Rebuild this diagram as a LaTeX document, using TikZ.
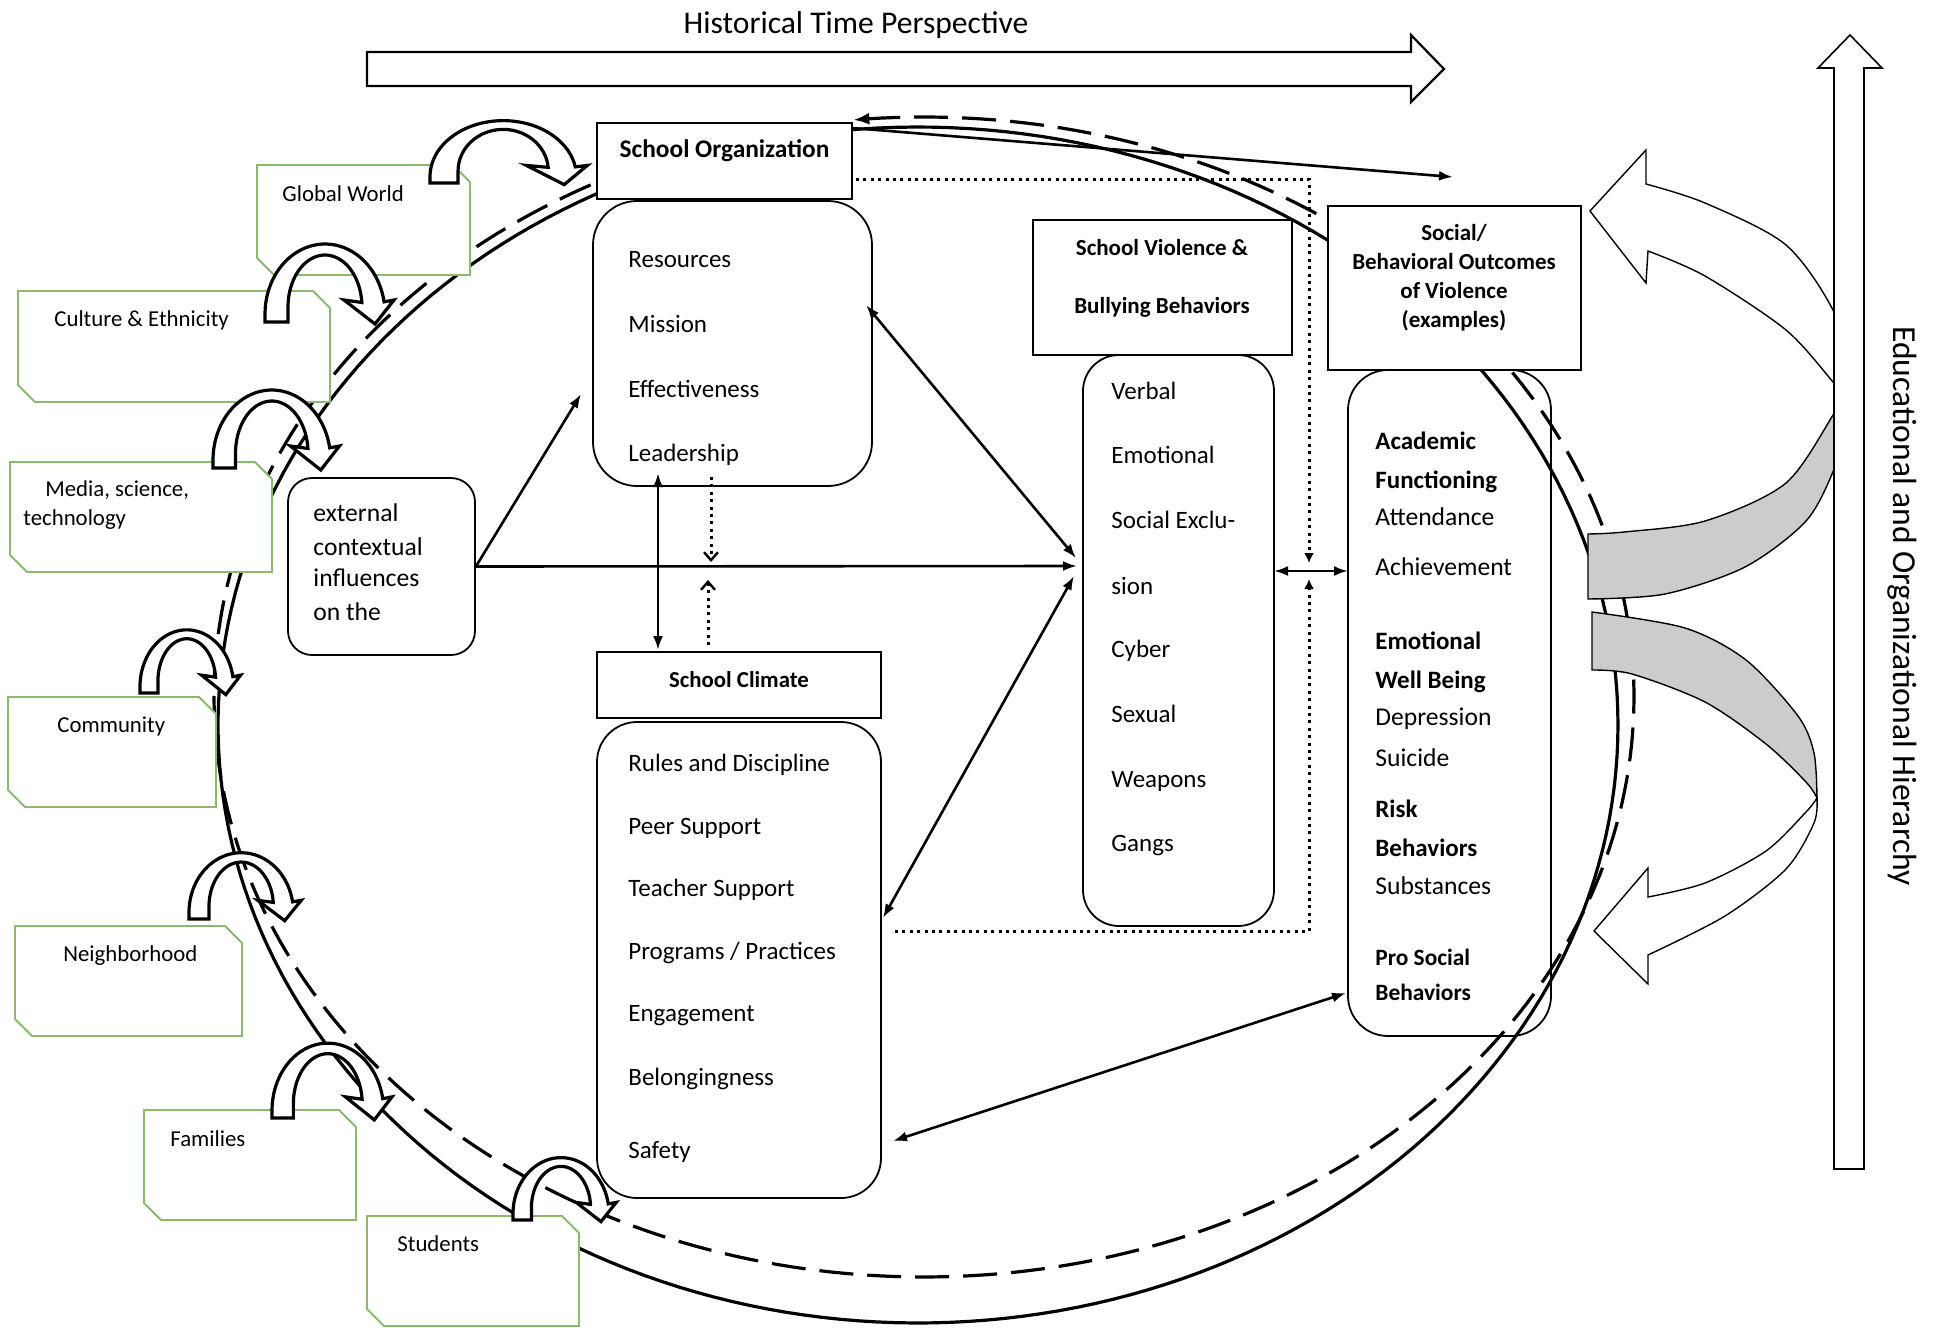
\documentclass[tikz,border=0pt]{standalone}
\usepackage{fontspec}
\setmainfont{Carlito}
\usetikzlibrary{arrows.meta,calc}
\definecolor{boxgreen}{RGB}{140,185,110}
\newcommand\greenbox[4]{%
  \draw[gline] (#1,#2) -- ({#3-17},#2) -- (#3,{#2+17}) -- (#3,#4) -- ({#1+17},#4) -- (#1,{#4-17}) -- cycle;}
\newcommand\uarrow[4]{%
  \begin{scope}[shift={(#1,#2)},xscale=#3,yscale=#4]
  \draw[uarr] (0,0) -- (0,-8) -- plot[domain=180:350,samples=40] ({60+60*cos(\x)},{-8+70*sin(\x)}) -- (129,-22) -- (110,2) -- (79,-22) -- plot[domain=355:180,samples=40] ({60+37*cos(\x)},{-15+52*sin(\x)}) -- (23,0) -- cycle;
  \end{scope}}
\begin{document}
\begin{tikzpicture}[x=0.5pt,y=-0.5pt,
  >={Latex[length=7pt,width=5pt]},
  conn/.style={line width=1.3pt},
  dots/.style={line width=1.5pt, dash pattern=on 1.5pt off 2.2pt},
  hbox/.style={draw, fill=white, line width=0.7pt, inner sep=0pt},
  rbox/.style={draw, line width=0.9pt, inner sep=0pt},
  gline/.style={draw=boxgreen, line width=0.9pt, fill=white},
  uarr/.style={draw=black, line width=1.6pt, fill=white},
  carr/.style={draw, line width=0.7pt},
  it/.style={anchor=west, inner sep=0pt, font=\fontsize{12.5}{14}\selectfont, text height=8pt, text depth=0pt},
  ib/.style={it, font=\bfseries\fontsize{12.5}{14}\selectfont},
  gt/.style={it, font=\fontsize{11.4}{13}\selectfont},
  ht/.style={inner sep=0pt, font=\bfseries\fontsize{11.5}{14}\selectfont, text height=8pt, text depth=0pt}
]
\useasboundingbox (0,0) rectangle (1935,1328);
\fill[white] (0,0) rectangle (1935,1328);

% historical time arrow
\node[font=\fontsize{15.8}{18}\selectfont, inner sep=0pt] (title) at (856,25) {Historical Time Perspective};
\draw[line width=1.1pt, fill=white] (367,52) -- (1411,52) -- (1411,35) -- (1444,69) -- (1411,102) -- (1411,86) -- (367,86) -- cycle;

% hierarchy label
\node[rotate=-90, font=\fontsize{16.8}{19}\selectfont, inner sep=0pt] (vtext) at (1902,606) {Educational and Organizational Hierarchy};

% ellipses
\draw[line width=1.6pt] plot[domain=0:360,samples=240] ({918+700*cos(\x)},{725+598*sin(\x)}) -- cycle;
\draw[line width=1.6pt, dash pattern=on 17pt off 7pt, -{Latex[length=8pt,width=6pt]}] plot[domain=0:1,samples=300] ({924+710*cos(242-338*\x)},{697+580*sin(242-338*\x)});

% school organization
\node[hbox, minimum width=127.5pt, minimum height=38pt] (orghdr) at (724.5,161) {};
\node[ht, font=\bfseries\fontsize{12.7}{15}\selectfont] (orgt) at (724.5,149) {School Organization};
\node[rbox, fill=white, rounded corners=22pt, minimum width=139.5pt, minimum height=142.5pt] (orgbody) at (732.5,343.5) {};
\node[it] (o1) at (628,259) {Resources};
\node[it] (o2) at (628,324) {Mission};
\node[it] (o3) at (628,389) {Effectiveness};
\node[it] (o4) at (628,453) {Leadership};

% school violence
\node[hbox, line width=1pt, minimum width=129.5pt, minimum height=67.5pt] (violhdr) at (1162.5,287.5) {};
\node[ht] (violt1) at (1162,247) {School Violence \&};
\node[ht] (violt2) at (1162,305) {Bullying Behaviors};
\node[rbox, fill=white, rounded corners=18pt, minimum width=95.5pt, minimum height=285.5pt] (violbody) at (1178.5,640.5) {};
\node[it] (v1) at (1111,391) {Verbal};
\node[it] (v2) at (1111,455) {Emotional};
\node[it] (v3) at (1111,520) {Social Exclu-};
\node[it] (v4) at (1111,586) {sion};
\node[it] (v5) at (1111,649) {Cyber};
\node[it] (v6) at (1111,714) {Sexual};
\node[it] (v7) at (1111,779) {Weapons};
\node[it] (v8) at (1111,843) {Gangs};

% outcomes
\node[hbox, line width=1pt, minimum width=126.5pt, minimum height=82pt] (sochdr) at (1454.5,288) {};
\node[font=\bfseries\fontsize{11.5}{14.5}\selectfont, align=center, inner sep=0pt] (soct) at (1454,278) {Social/\\Behavioral Outcomes\\of Violence\\(examples)};
\node[rbox, rounded corners=20pt, minimum width=101.5pt, minimum height=333pt] (outbody) at (1449.5,703) {};
\node[ib] (u1) at (1375,441) {Academic};
\node[ib] (u2) at (1375,480) {Functioning};
\node[it, font=\fontsize{12.8}{14}\selectfont] (u3) at (1375,517) {Attendance};
\node[it, font=\fontsize{12.8}{14}\selectfont] (u4) at (1375,567) {Achievement};
\node[ib] (u5) at (1375,641) {Emotional};
\node[ib] (u6) at (1375,680) {Well Being};
\node[it, font=\fontsize{12.8}{14}\selectfont] (u7) at (1375,717) {Depression};
\node[it, font=\fontsize{12.8}{14}\selectfont] (u8) at (1375,758) {Suicide};
\node[ib] (u9) at (1375,809) {Risk};
\node[ib] (u10) at (1375,848) {Behaviors};
\node[it, font=\fontsize{12.8}{14}\selectfont] (u11) at (1375,886) {Substances};
\node[ib, font=\bfseries\fontsize{11.7}{13}\selectfont] (u12) at (1375,957) {Pro Social};
\node[ib, font=\bfseries\fontsize{11.7}{13}\selectfont] (u13) at (1375,992) {Behaviors};

% external influences
\node[rbox, fill=white, rounded corners=12pt, minimum width=93.5pt, minimum height=88.5pt] (ext) at (381.5,566.5) {};
\node[it, font=\fontsize{12.8}{14}\selectfont] (e1) at (313,513) {external};
\node[it, font=\fontsize{12.8}{14}\selectfont] (e2) at (313,547) {contextual};
\node[it, font=\fontsize{12.8}{14}\selectfont] (e3) at (313,578) {influences};
\node[it, font=\fontsize{12.8}{14}\selectfont] (e4) at (313,612) {on the};

% school climate
\node[hbox, minimum width=142pt, minimum height=33pt] (climhdr) at (739,685) {};
\node[ht, font=\bfseries\fontsize{11.4}{13}\selectfont] (climt) at (739,679) {School Climate};
\node[rbox, fill=white, rounded corners=20pt, minimum width=142pt, minimum height=238pt] (climbody) at (739,960) {};
\node[it] (c1) at (628,763) {Rules and Discipline};
\node[it] (c2) at (628,826) {Peer Support};
\node[it] (c3) at (628,888) {Teacher Support};
\node[it] (c4) at (628,951) {Programs / Practices};
\node[it] (c5) at (628,1013) {Engagement};
\node[it] (c6) at (628,1077) {Belongingness};
\node[it] (c7) at (628,1150) {Safety};

% green context boxes
\greenbox{257}{165}{470}{275}
\node[gt] (g1) at (282,193) {Global World};
\greenbox{18}{291}{330}{402}
\node[gt] (g2) at (54,318) {Culture \& Ethnicity};
\greenbox{10}{462}{272}{572}
\node[gt] (g3a) at (45,488) {Media, science,};
\node[gt] (g3b) at (23,517) {technology};
\greenbox{8}{697}{216}{807}
\node[gt] (g4) at (57,724) {Community};
\greenbox{15}{926}{242}{1036}
\node[gt] (g5) at (63,953) {Neighborhood};
\greenbox{144}{1110}{356}{1220}
\node[gt] (g6) at (170,1138) {Families};
\greenbox{367}{1216}{579}{1326}
\node[gt] (g7) at (397,1243) {Students};

% curved influence arrows
\uarrow{430}{183}{1.22}{0.8}
\uarrow{265}{322}{1}{1}
\uarrow{213}{468}{0.98}{1}
\uarrow{140}{693}{0.78}{0.81}
\uarrow{189}{919}{0.87}{0.85}
\uarrow{272}{1118}{0.93}{0.96}
\uarrow{513}{1220}{0.8}{0.8}

% big curved feedback arrows
\draw[carr, fill=gray!40] (1588,534) -- plot[smooth] coordinates {(1588,534) (1624,532) (1705,521) (1786,483) (1835,412) (1845,398)} -- (1860,395) -- plot[smooth] coordinates {(1860,395) (1835,467) (1806,521) (1745,567) (1665,594) (1588,599)} -- cycle;
\draw[carr, fill=white] (1590,211) -- (1646,150) -- (1646,184) -- plot[smooth] coordinates {(1646,184) (1705,203) (1786,245) (1835,314) (1860,395)} -- (1845,398) -- plot[smooth] coordinates {(1845,398) (1833,382) (1786,330) (1705,276) (1648,251)} -- (1646,283) -- cycle;
\draw[carr, fill=gray!40] (1592,612) -- plot[smooth] coordinates {(1592,612) (1685,628) (1746,660) (1798,716) (1814,753) (1817,798)} -- plot[smooth] coordinates {(1817,798) (1806,782) (1766,744) (1705,702) (1632,674) (1592,670)} -- cycle;
\draw[carr, fill=white] (1817,798) -- plot[smooth] coordinates {(1817,798) (1814,823) (1786,869) (1725,916) (1648,955)} -- (1648,984) -- (1594,931) -- (1648,868) -- (1648,897) -- plot[smooth] coordinates {(1648,897) (1705,883) (1766,851) (1806,812) (1817,798)} -- cycle;

% hierarchy arrow
\draw[line width=0.8pt, fill=white] (1834,1169) -- (1834,68) -- (1818,68) -- (1850,35) -- (1882,68) -- (1864,68) -- (1864,1169) -- cycle;

% connector end points
\coordinate (pA) at (581,394);
\coordinate (pO) at (866,305);
\coordinate (pV1) at (1076,558);
\coordinate (pV2) at (1074,576);
\coordinate (pC) at (883,918);
\coordinate (pS) at (893,1141);
\coordinate (pP) at (1346,993);
\coordinate (pL1) at (658,473);
\coordinate (pL2) at (658,650);
\coordinate (pD1) at (711,477);
\coordinate (pD2) at (711,562);
\coordinate (pD3) at (708,645);
\coordinate (pD4) at (708,580);
\coordinate (pT1) at (852,128);
\coordinate (pT2) at (1453,177);
\coordinate (pF1) at (856,179);
\coordinate (pF2) at (1309,179);
\coordinate (pF3) at (1309,563);
\coordinate (pF4) at (895,931);
\coordinate (pF5) at (1309,931);
\coordinate (pF6) at (1309,579);
\coordinate (pH1) at (1274,571);
\coordinate (pH2) at (1348,571);
\coordinate (pE) at (1077,566);

% connectors
\draw[conn,->] (ext.east) -- (pA);
\draw[conn,->] (ext.east) -- (pE);
\draw[conn,<->] (pO) -- (pV1);
\draw[conn,<->] (pC) -- (pV2);
\draw[conn,<->] (pS) -- (pP);
\draw[conn,<->] (pL1) -- (pL2);
\draw[dots,-{Straight Barb[length=4pt,width=7pt,line width=1.2pt]}] (pD1) -- (pD2);
\draw[dots,-{Straight Barb[length=4pt,width=7pt,line width=1.2pt]}] (pD3) -- (pD4);
\draw[conn,->] (pT1) -- (pT2);
\draw[dots,-{Latex[length=5pt,width=5pt]}] (pF1) -- (pF2) -- (pF3);
\draw[dots,-{Latex[length=5pt,width=5pt]}] (pF4) -- (pF5) -- (pF6);
\draw[conn,<->] (pH1) -- (pH2);
\end{tikzpicture}
\end{document}
